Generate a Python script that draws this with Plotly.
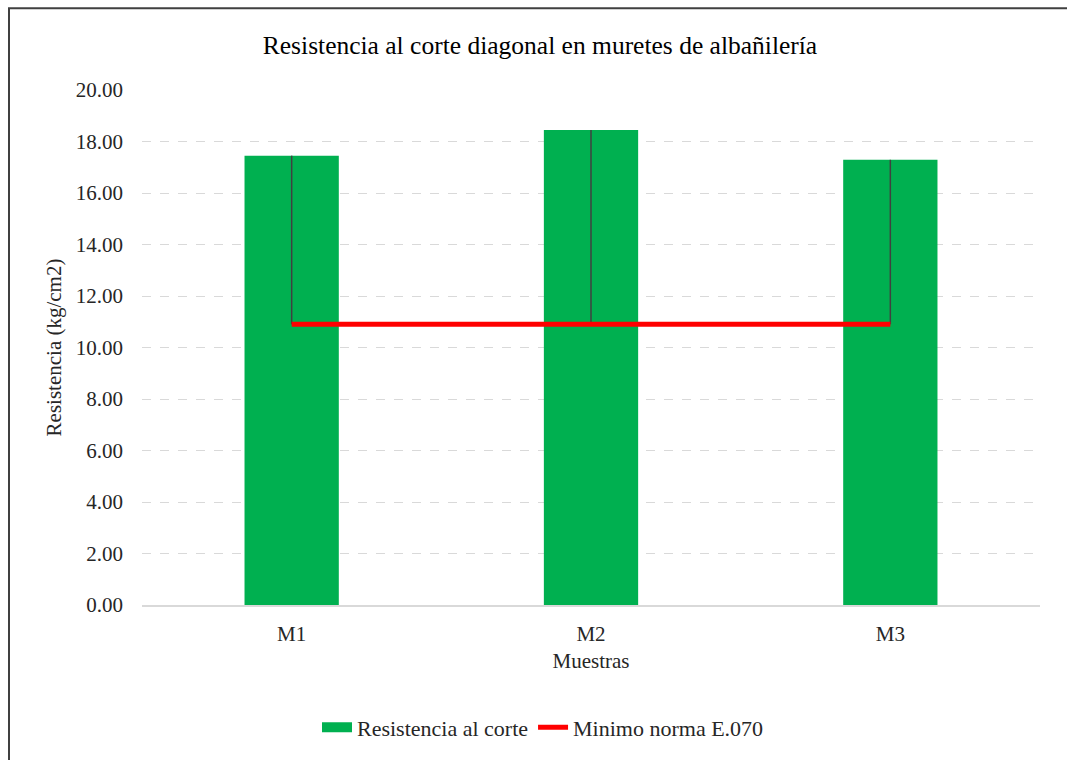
import plotly.graph_objects as go

categories = ["M1", "M2", "M3"]
resistencia = [17.45, 18.45, 17.29]
minimo = [10.9, 10.9, 10.9]
y_ticks = [0, 2, 4, 6, 8, 10, 12, 14, 16, 18, 20]
y_tick_labels = [f"{v:.2f}" for v in y_ticks]

font_family = "Liberation Serif"

fig = go.Figure()
fig.add_trace(go.Bar(
    x=categories, y=resistencia, name="Resistencia al corte",
    marker=dict(color="#00B050", line=dict(width=0)),
    width=0.315, showlegend=False,
))
# legend entry for bars (wide green key as in the reference)
fig.add_trace(go.Scatter(
    x=[None], y=[None], mode="lines", name="Resistencia al corte",
    line=dict(color="#00B050", width=13), hoverinfo="skip",
))
# high-low lines between the minimum line and the bar values
for c, lo, hi in zip(categories, minimo, resistencia):
    fig.add_trace(go.Scatter(
        x=[c, c], y=[lo, hi], mode="lines",
        line=dict(color="#404040", width=1.5),
        showlegend=False, hoverinfo="skip",
    ))
fig.add_trace(go.Scatter(
    x=categories, y=minimo, name="Minimo norma E.070", mode="lines",
    line=dict(color="#FF0000", width=5),
))

ml, mr, mt, mb = 142, 27, 90, 153
pw, ph = 1067 - ml - mr, 760 - mt - mb

fig.update_layout(
    width=1067, height=760,
    margin=dict(l=ml, r=mr, t=mt, b=mb),
    paper_bgcolor="white", plot_bgcolor="white",
    font=dict(family=font_family, size=21, color="#262626"),
    title=dict(text="Resistencia al corte diagonal en muretes de albañilería",
               x=(540 - ml) / pw, xref="paper", xanchor="center",
               y=1 - 45 / 760, yanchor="middle",
               font=dict(size=25.5, color="#000000", family=font_family)),
    xaxis=dict(
        title=dict(text="Muestras", font=dict(size=21, family=font_family), standoff=8),
        showgrid=False, showline=True, linecolor="#D9D9D9", linewidth=1.5,
        ticks="", tickfont=dict(size=21, family=font_family),
        ticklabelstandoff=9,
        range=[-0.5, 2.5],
    ),
    yaxis=dict(
        title=dict(text="Resistencia (kg/cm2)", font=dict(size=21, family=font_family), standoff=8),
        range=[0, 20], tickvals=y_ticks, ticktext=y_tick_labels,
        showgrid=True, gridcolor="#D9D9D9", griddash="dash", gridwidth=1,
        zeroline=False, showline=False, ticks="",
        ticklabelstandoff=18,
        tickfont=dict(size=21, family=font_family),
    ),
    legend=dict(orientation="h", x=(543 - ml) / pw, xanchor="center",
                y=(607 - 730) / ph, yanchor="middle",
                font=dict(size=22, family=font_family),
                traceorder="normal"),
    bargap=0.68,
    shapes=[dict(type="rect", xref="paper", yref="paper",
                 x0=(9 - ml) / pw, x1=1.2, y0=-0.6, y1=(607 - 8) / ph,
                 line=dict(color="#404040", width=2), fillcolor="rgba(0,0,0,0)",
                 layer="below")],
)

fig.write_html("out.html")
